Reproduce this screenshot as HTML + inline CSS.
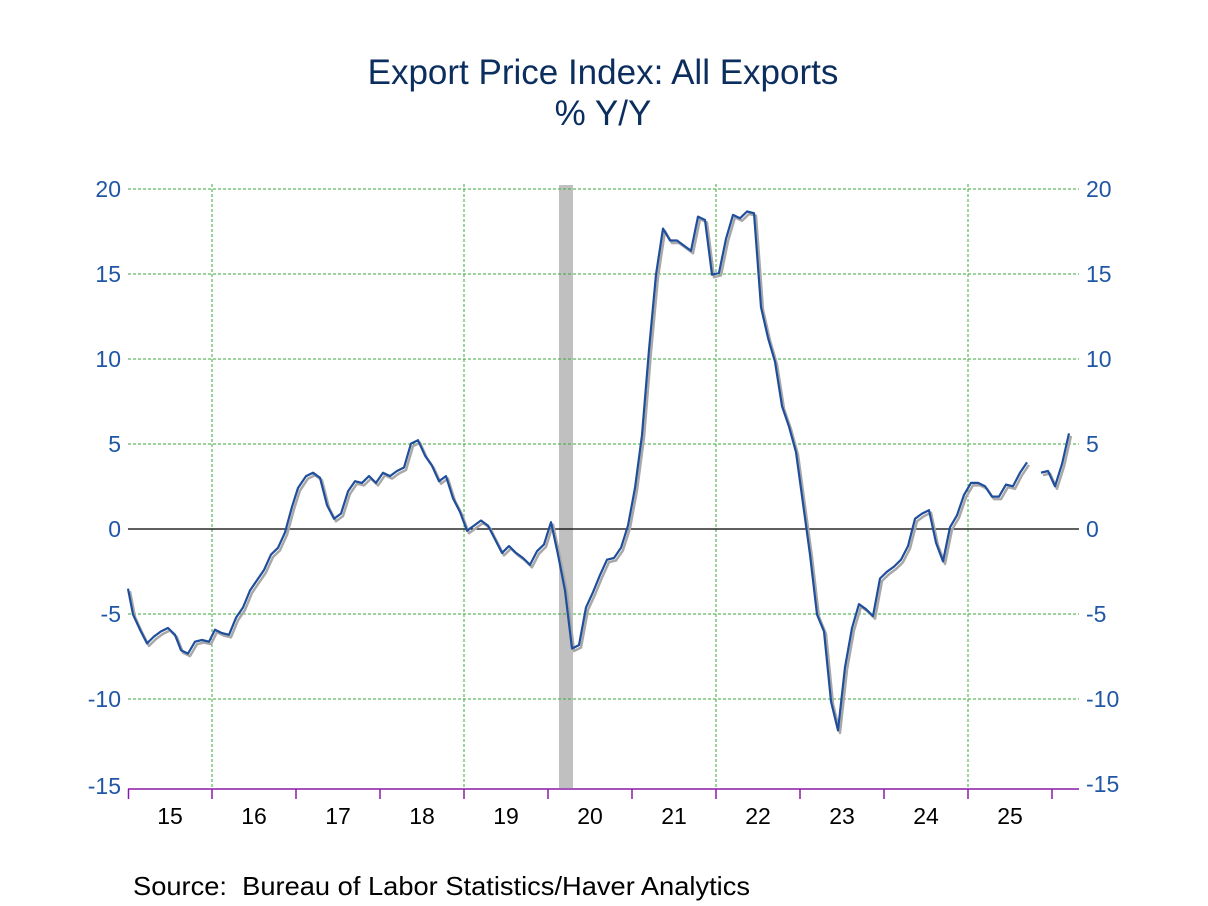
<!DOCTYPE html>
<html><head><meta charset="utf-8"><style>
html,body{margin:0;padding:0;background:#fff;}
svg{display:block;font-family:"Liberation Sans",Arial,sans-serif;}
</style></head><body>
<svg id="c" width="1208" height="906" viewBox="0 0 1208 906" xmlns="http://www.w3.org/2000/svg">
<rect width="1208" height="906" fill="#fff"/>
<text x="603" y="84" text-anchor="middle" font-size="35" fill="#0b2e5e">Export Price Index: All Exports</text>
<text x="603" y="125" text-anchor="middle" font-size="35" fill="#0b2e5e">% Y/Y</text>
<rect x="559" y="185" width="14" height="603" fill="#c0c0c0"/>
<g stroke="#3aaa3a" stroke-width="1" stroke-dasharray="3,2" fill="none">
<line x1="128" y1="189" x2="1079" y2="189"/>
<line x1="128" y1="274" x2="1079" y2="274"/>
<line x1="128" y1="359" x2="1079" y2="359"/>
<line x1="128" y1="444" x2="1079" y2="444"/>
<line x1="128" y1="614" x2="1079" y2="614"/>
<line x1="128" y1="699" x2="1079" y2="699"/>
<line x1="212" y1="184" x2="212" y2="788"/>
<line x1="464" y1="184" x2="464" y2="788"/>
<line x1="716" y1="184" x2="716" y2="788"/>
<line x1="968" y1="184" x2="968" y2="788"/>
</g>
<line x1="128" y1="529" x2="1079" y2="529" stroke="#000" stroke-width="1.3"/>
<line x1="128" y1="789" x2="1079" y2="789" stroke="#8a1aa8" stroke-width="1.5"/>
<g stroke="#8a1aa8" stroke-width="1.5">
<line x1="128.5" y1="789" x2="128.5" y2="799"/><line x1="212" y1="789" x2="212" y2="799"/>
<line x1="296" y1="789" x2="296" y2="799"/><line x1="380" y1="789" x2="380" y2="799"/>
<line x1="464" y1="789" x2="464" y2="799"/><line x1="548" y1="789" x2="548" y2="799"/>
<line x1="632" y1="789" x2="632" y2="799"/><line x1="716" y1="789" x2="716" y2="799"/>
<line x1="800" y1="789" x2="800" y2="799"/><line x1="884" y1="789" x2="884" y2="799"/>
<line x1="968" y1="789" x2="968" y2="799"/><line x1="1052" y1="789" x2="1052" y2="799"/>
</g>
<g font-size="23" fill="#1f57a5">
<g text-anchor="end">
<text x="121" y="197">20</text><text x="121" y="282">15</text><text x="121" y="367">10</text>
<text x="121" y="452">5</text><text x="121" y="537">0</text><text x="121" y="622">-5</text>
<text x="121" y="707">-10</text><text x="121" y="794">-15</text>
</g>
<g text-anchor="start">
<text x="1086" y="197">20</text><text x="1086" y="282">15</text><text x="1086" y="367">10</text>
<text x="1086" y="452">5</text><text x="1086" y="537">0</text><text x="1086" y="622">-5</text>
<text x="1086" y="707">-10</text><text x="1086" y="792">-15</text>
</g>
</g>
<g font-size="23" fill="#000" text-anchor="middle">
<text x="170" y="824">15</text><text x="254" y="824">16</text><text x="338" y="824">17</text>
<text x="422" y="824">18</text><text x="506" y="824">19</text><text x="590" y="824">20</text>
<text x="674" y="824">21</text><text x="758" y="824">22</text><text x="842" y="824">23</text>
<text x="926" y="824">24</text><text x="1010" y="824">25</text>
</g>
<text x="133" y="895" font-size="26" fill="#000" xml:space="preserve" textLength="617" lengthAdjust="spacingAndGlyphs">Source:  Bureau of Labor Statistics/Haver Analytics</text>
<g id="series"></g>
</svg>
<script>
var A=[[128,-3.5],[133,-5],[140,-5.9],[147,-6.7],[154,-6.3],[161,-6.0],[168,-5.8],[175,-6.2],[181,-7.1],[188,-7.3],[195,-6.6],[202,-6.5],[209,-6.6],[215,-5.9],[222,-6.1],[229,-6.2],[236,-5.2],[243,-4.6],[250,-3.6],[257,-3.0],[264,-2.4],[271,-1.5],[278,-1.1],[285,-0.2],[292,1.3],[298,2.4],[306,3.1],[313,3.3],[320,3.0],[327,1.4],[334,0.6],[341,0.9],[348,2.2],[355,2.8],[362,2.7],[369,3.1],[376,2.7],[383,3.3],[390,3.1],[397,3.4],[404,3.6],[411,5.0],[418,5.2],[425,4.3],[432,3.7],[439,2.8],[446,3.1],[453,1.8],[460,1.0],[467,-0.1],[474,0.2],[481,0.5],[488,0.2],[495,-0.6],[502,-1.4],[509,-1.0],[516,-1.4],[523,-1.7],[530,-2.1],[537,-1.3],[544,-0.9],[551,0.4],[558,-1.5],[565,-3.6],[572,-7.0],[579,-6.8],[586,-4.6],[593,-3.7],[600,-2.7],[607,-1.8],[614,-1.7],[621,-1.1],[628,0.2],[635,2.4],[642,5.5],[649,10.5],[656,14.9],[663,17.6],[670,16.9],[677,16.9],[684,16.6],[691,16.3],[698,18.3],[705,18.1],[712,14.9],[719,15.0],[726,17.0],[733,18.4],[740,18.2],[747,18.6],[754,18.5],[761,13.0],[768,11.2],[775,9.8],[782,7.2],[789,6.0],[796,4.5],[803,1.5],[810,-1.5],[817,-5.0],[824,-6.0],[831,-10.1],[838,-11.8],[845,-8.1],[852,-5.8],[859,-4.4],[866,-4.7],[873,-5.1],[880,-2.9],[887,-2.5],[894,-2.2],[901,-1.8],[908,-1.0],[915,0.6],[922,0.9],[929,1.1],[936,-0.8],[943,-1.9],[950,0.1],[957,0.8],[964,2.0],[971,2.7],[978,2.7],[985,2.5],[992,1.9],[999,1.9],[1006,2.6],[1013,2.5],[1020,3.3],[1027,3.9]];
var B=[[1041,3.3],[1048,3.4],[1055,2.5],[1062,3.8],[1069,5.6]];
function pts(a,dx,dy){return a.map(function(p){return (p[0]+dx)+','+(529-p[1]*17.07+dy).toFixed(1)}).join(' ');}
var g=document.getElementById('series'),h='';
[A,B].forEach(function(a){h+='<polyline points="'+pts(a,2,2.5)+'" fill="none" stroke="#a8a8a8" stroke-width="2.5" stroke-linejoin="round"/>';});
[A,B].forEach(function(a){h+='<polyline points="'+pts(a,0,0)+'" fill="none" stroke="#1f4e9c" stroke-width="2.2" stroke-linejoin="round"/>';});
g.innerHTML=h;
</script>
</body></html>
